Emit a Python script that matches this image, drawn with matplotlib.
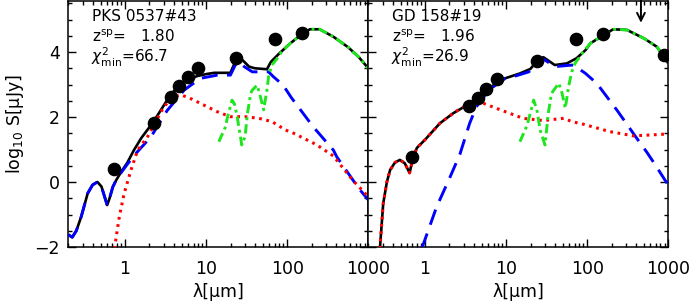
import numpy as np
import matplotlib
matplotlib.use("Agg")
import matplotlib.pyplot as plt
from matplotlib.ticker import LogLocator, FixedLocator, NullFormatter, MultipleLocator

plt.rcParams['font.family'] = ['DejaVu Sans']
plt.rcParams['mathtext.fontset'] = 'dejavusans'

# ---------------- data: left panel (PKS 0537#43) ----------------
L_name = "PKS 0537#43"
L_z = "1.80"
L_chi = "66.7"
L_obs_lam = [0.73, 2.25, 3.67, 4.6, 5.9, 8.0, 23.7, 70.0, 153.0]
L_obs_val = [0.39, 1.81, 2.62, 2.95, 3.22, 3.50, 3.81, 4.41, 4.57]

L_tot_loglam = [-0.70, -0.65, -0.60, -0.54, -0.46, -0.40, -0.34, -0.29, -0.22, -0.19, -0.15, -0.11,
                -0.05, 0.03, 0.11, 0.20, 0.35, 0.52, 0.65, 0.78, 0.89, 1.00, 1.10, 1.30, 1.35, 1.40,
                1.47, 1.53, 1.60, 1.75, 1.80, 1.90, 2.04, 2.18, 2.28, 2.40, 2.57, 2.75, 2.88, 3.00]
L_tot_val = [-1.62, -1.70, -1.50, -1.07, -0.35, -0.09, 0.00, -0.14, -0.71, -0.50, -0.15, 0.05,
             0.30, 0.60, 0.98, 1.35, 1.85, 2.52, 2.95, 3.15, 3.26, 3.32, 3.36, 3.36, 3.65, 3.86,
             3.70, 3.55, 3.50, 3.47, 3.70, 3.95, 4.27, 4.55, 4.70, 4.70, 4.47, 4.15, 3.85, 3.50]

L_blue_loglam = [-0.70, -0.65, -0.60, -0.54, -0.46, -0.40, -0.34, -0.29, -0.22, -0.19, -0.15, -0.11,
                 -0.05, 0.03, 0.135, 0.32, 0.52, 0.73, 0.93, 1.14, 1.30, 1.36, 1.40, 1.47, 1.57,
                 1.77, 1.83, 1.95, 2.05, 2.32, 2.57, 2.61, 2.88, 3.00]
L_blue_val = [-1.62, -1.70, -1.50, -1.07, -0.35, -0.09, 0.00, -0.14, -0.71, -0.50, -0.15, 0.05,
              0.28, 0.55, 0.88, 1.39, 2.20, 2.83, 3.19, 3.29, 3.29, 3.60, 3.70, 3.55, 3.39,
              3.39, 3.24, 2.98, 2.60, 1.70, 0.98, 0.78, -0.19, -0.55]

L_red_loglam = [-0.13, -0.07, -0.01, 0.074, 0.156, 0.28, 0.48, 0.60, 0.69, 0.80, 0.93, 1.14, 1.30,
                1.48, 1.65, 1.81, 1.98, 2.08, 2.36, 2.57, 2.81, 3.00]
L_red_val = [-2.05, -1.07, -0.35, 0.37, 0.98, 1.40, 2.32, 2.62, 2.68, 2.58, 2.42, 2.16, 2.01,
             2.01, 1.96, 1.86, 1.60, 1.50, 1.15, 0.80, 0.05, -0.45]

L_green_loglam = [1.157, 1.24, 1.26, 1.32, 1.35, 1.38, 1.44, 1.48, 1.51, 1.55, 1.57, 1.63, 1.67, 1.71,
                  1.75, 1.77, 1.81, 1.87, 1.93, 2.04, 2.18, 2.28, 2.40, 2.57, 2.75, 2.88, 3.00]
L_green_val = [1.24, 1.70, 1.96, 2.52, 2.40, 2.06, 1.14, 1.39, 2.11, 2.73, 2.83, 2.98, 2.62, 2.22,
               2.83, 3.24, 3.60, 3.78, 4.00, 4.27, 4.55, 4.70, 4.70, 4.47, 4.15, 3.85, 3.50]

# ---------------- data: right panel (GD 158#19) ----------------
R_name = "GD 158#19"
R_z = "1.96"
R_chi = "26.9"
R_obs_lam = [0.70, 3.5, 4.55, 5.66, 7.8, 23.9, 71.8, 156.0, 875.0]
R_obs_val = [0.76, 2.34, 2.58, 2.85, 3.16, 3.72, 4.41, 4.56, 3.91]
R_ul_lam = [460.0]
R_ul_val = [4.9]

R_tot_loglam = [-0.556, -0.515, -0.47, -0.43, -0.37, -0.31, -0.25, -0.19, -0.15, -0.10, 0.0, 0.185,
                0.35, 0.556, 0.72, 0.926, 1.17, 1.30, 1.38, 1.46, 1.60, 1.75, 1.87, 1.98, 2.04, 2.32,
                2.49, 2.70, 2.86, 3.00]
R_tot_val = [-2.05, -0.66, 0.00, 0.37, 0.60, 0.68, 0.58, 0.28, 0.72, 1.05, 1.30, 1.81,
             2.12, 2.42, 2.73, 3.14, 3.34, 3.48, 3.72, 3.84, 3.60, 3.65, 3.81, 4.06, 4.27, 4.70,
             4.68, 4.42, 4.16, 3.65]

R_red_loglam = [-0.556, -0.515, -0.47, -0.43, -0.37, -0.31, -0.25, -0.19, -0.15, -0.10, 0.0, 0.185,
                0.35, 0.45, 0.60, 0.72, 0.93, 1.21, 1.46, 1.60, 1.71, 1.81, 1.95, 2.28, 2.57, 2.80, 3.00]
R_red_val = [-2.05, -0.66, 0.00, 0.37, 0.60, 0.68, 0.58, 0.28, 0.72, 1.05, 1.30, 1.81,
             2.12, 2.28, 2.45, 2.42, 2.22, 1.96, 1.89, 1.93, 1.96, 1.86, 1.78, 1.55, 1.42, 1.45, 1.48]

R_blue_loglam = [-0.04, 0.144, 0.30, 0.43, 0.55, 0.63, 0.70, 0.80, 0.88, 0.99, 1.10, 1.28, 1.45,
                 1.60, 1.73, 1.83, 1.98, 2.12, 2.37, 2.61, 2.74, 2.82, 3.00]
R_blue_val = [-2.05, -0.76, 0.10, 0.85, 1.80, 2.30, 2.55, 2.85, 3.00, 3.19, 3.25, 3.39, 3.80,
              3.55, 3.58, 3.60, 3.34, 3.03, 2.20, 1.35, 0.90, 0.60, -0.10]

R_green_loglam = [1.17, 1.26, 1.34, 1.38, 1.42, 1.48, 1.52, 1.56, 1.65, 1.69, 1.73, 1.77, 1.81,
                  1.85, 1.95, 2.04, 2.32, 2.49, 2.70, 2.86, 3.00]
R_green_val = [1.24, 1.75, 2.52, 2.22, 1.60, 1.14, 2.11, 2.73, 3.04, 2.73, 2.27, 2.93, 3.39,
               3.65, 4.00, 4.27, 4.70, 4.68, 4.42, 4.16, 3.65]

x_ticks = [1, 10, 100, 1000]
x_ticklabels = ["1", "10", "100", "1000"]
y_ticks = [-2, 0, 2, 4]

# ---------------- figure ----------------
W, H = 692, 306
fig = plt.figure(figsize=(W / 100, H / 100), dpi=100)
axL = fig.add_axes([68.3 / W, 59 / H, 300 / W, 246 / H])
axR = fig.add_axes([368.3 / W, 59 / H, 300 / W, 246 / H])

BLUE = '#0000ff'
RED = '#ff0000'
GREEN = '#1ee61e'

def draw(ax, tot, blue, red, green, obs):
    ax.plot(10 ** np.array(tot[0]), tot[1], color='black', lw=1.9, solid_capstyle='butt', zorder=2)
    ax.plot(10 ** np.array(blue[0]), blue[1], color=BLUE, lw=2.1, dashes=(5.5, 3.2), zorder=3)
    ax.plot(10 ** np.array(red[0]), red[1], color=RED, lw=2.2, dashes=(0.9, 1.5), zorder=3)
    ax.plot(10 ** np.array(green[0]), green[1], color=GREEN, lw=2.1, dashes=(3.2, 1.4, 1.0, 1.4), zorder=4)
    ax.plot(obs[0], obs[1], 'o', color='black', ms=8.8, zorder=5)

def style(ax, show_y):
    ax.set_xscale('log')
    ax.set_xlim(0.2, 1000)
    ax.set_ylim(-2, 5.57)
    ax.xaxis.set_major_locator(FixedLocator(x_ticks))
    ax.set_xticklabels(x_ticklabels)
    ax.xaxis.set_minor_locator(LogLocator(base=10, subs=np.arange(2, 10)))
    ax.xaxis.set_minor_formatter(NullFormatter())
    ax.yaxis.set_major_locator(FixedLocator(y_ticks))
    ax.yaxis.set_minor_locator(MultipleLocator(0.5))
    ax.tick_params(which='both', direction='in', top=True, right=True, width=1.0, color='black')
    ax.tick_params(which='major', length=6)
    ax.tick_params(which='minor', length=3)
    ax.tick_params(axis='x', which='major', labelsize=12.5, pad=9)
    ax.tick_params(axis='y', which='major', labelsize=12.5, pad=6)
    if not show_y:
        ax.set_yticklabels([])
    for s in ax.spines.values():
        s.set_linewidth(1.1)
    ax.set_xlabel(r'$\lambda[\mu$m$]$' if False else 'λ[μm]', fontsize=12.5, labelpad=4)

draw(axL, (L_tot_loglam, L_tot_val), (L_blue_loglam, L_blue_val), (L_red_loglam, L_red_val),
     (L_green_loglam, L_green_val), (L_obs_lam, L_obs_val))
draw(axR, (R_tot_loglam, R_tot_val), (R_blue_loglam, R_blue_val), (R_red_loglam, R_red_val),
     (R_green_loglam, R_green_val), (R_obs_lam, R_obs_val))
style(axL, True)
style(axR, False)
axL.set_yticklabels(['−2', '0', '2', '4'])
axL.set_ylabel(r'log$_{10}$ S[μJy]', fontsize=12.5, labelpad=6)

# upper limit arrow
for lam, val in zip(R_ul_lam, R_ul_val):
    axR.annotate('', xy=(lam, val), xytext=(lam, 5.6),
                 arrowprops=dict(arrowstyle='->', color='black', lw=1.4, mutation_scale=14,
                                 shrinkA=0, shrinkB=0), zorder=6)

def labels(ax, name, z, chi):
    ax.text(0.08, 0.935, name, transform=ax.transAxes, fontsize=11, va='center', ha='left')
    ax.text(0.08, 0.855, r'z$^{\rm sp}$=   ' + z, transform=ax.transAxes, fontsize=11, va='center', ha='left')
    ax.text(0.075, 0.77, r'$\chi^2_{\rm min}$=' + chi, transform=ax.transAxes, fontsize=11, va='center', ha='left')

labels(axL, L_name, L_z, L_chi)
labels(axR, R_name, R_z, R_chi)

fig.savefig('out.png', dpi=100)
